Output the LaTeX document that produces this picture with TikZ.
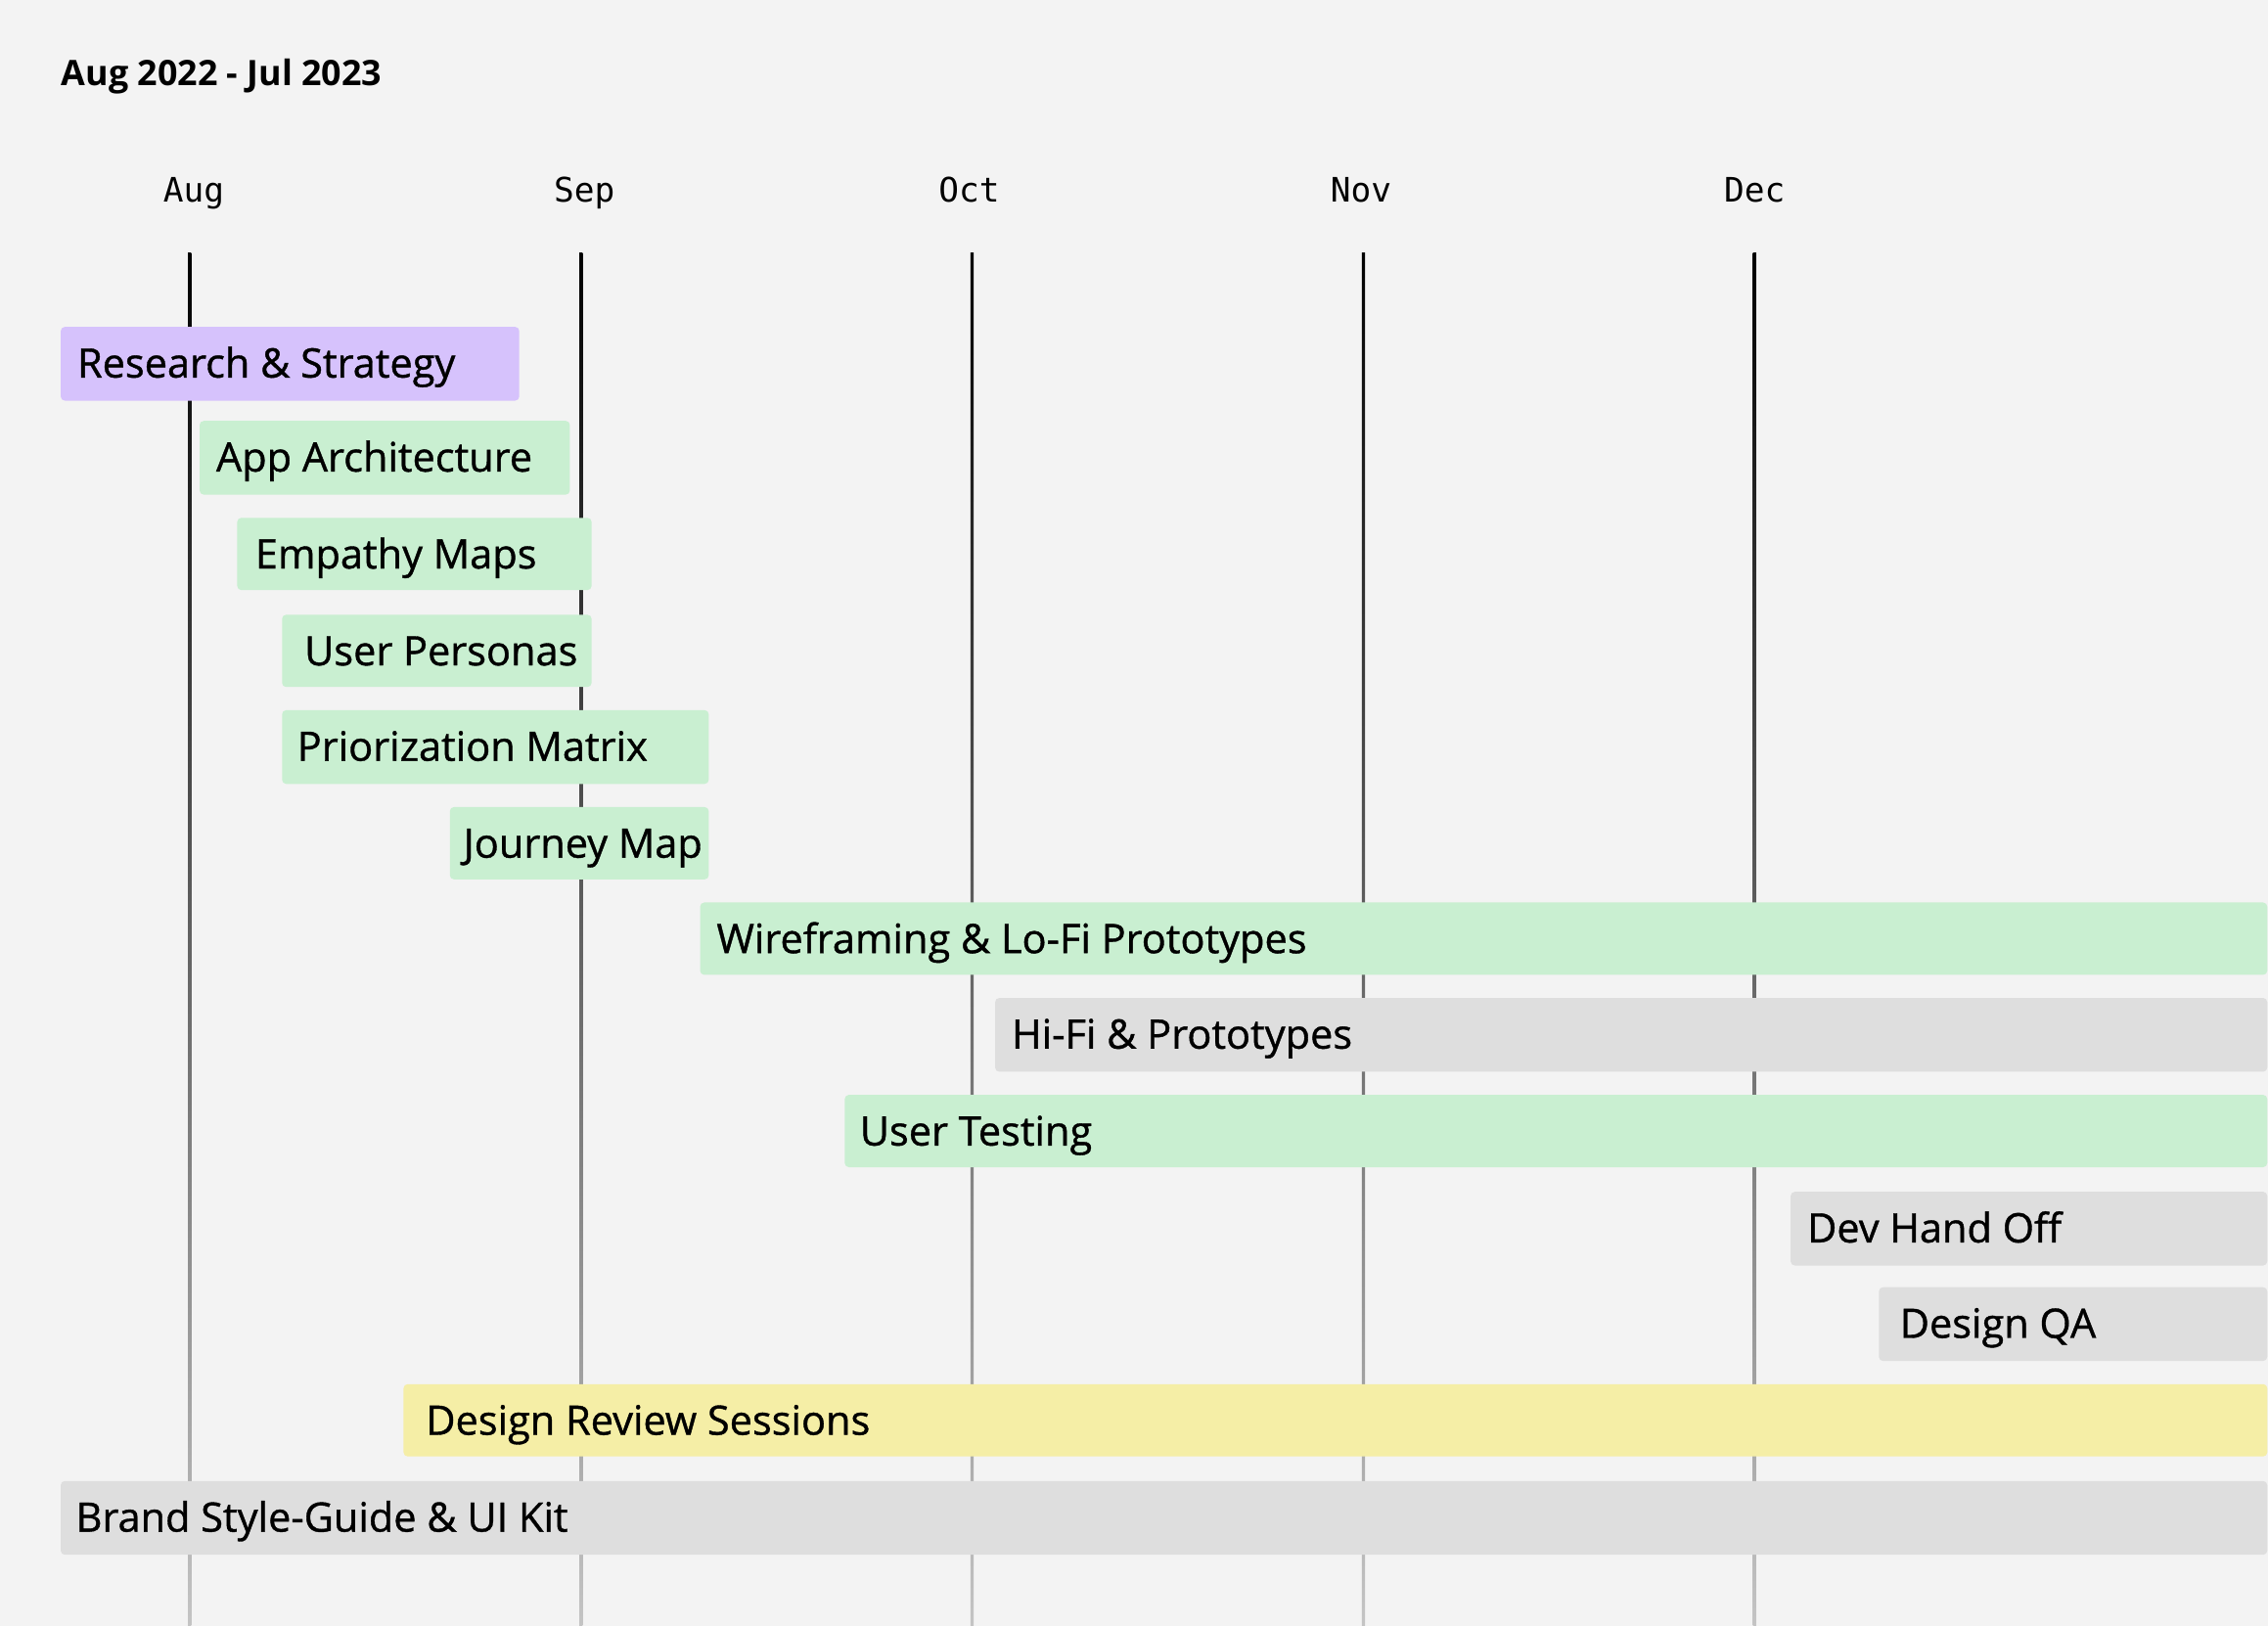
\documentclass[tikz,border=0pt]{standalone}
\usepackage{fontspec}
\setmainfont{Open Sans}
\newfontfamily\taskfont{Open Sans}[FakeBold=0.9]
\newfontfamily\monthfont{DejaVu Sans Mono}
\usepackage{tikz}
\definecolor{bgGray}{HTML}{F3F3F3}
\definecolor{barPurple}{HTML}{D6C2FC}
\definecolor{barGreen}{HTML}{C9EFD1}
\definecolor{barGray}{HTML}{DEDEDE}
\definecolor{barYellow}{HTML}{F5EEA6}
\definecolor{lineFade}{HTML}{C4C4C4}

\begin{document}
\begin{tikzpicture}[x=0.1478mm, y=-0.1478mm,
    bar/.style={rounded corners=1.2pt},
    task/.style={anchor=base west, inner sep=0pt, font=\taskfont\fontsize{11.8}{14}\selectfont},
    month/.style={anchor=base, inner sep=0pt, font=\monthfont\fontsize{9.8}{12}\selectfont},
    monthline/.style={top color=black, bottom color=lineFade}]
    %%background
    \fill[bgGray] (0,0) rectangle (1568,1124);
    \useasboundingbox (0,0) rectangle (1568,1124);
    %%title
    \node[anchor=base west, inner sep=0pt, font=\bfseries\fontsize{10.2}{12}\selectfont] (period) at (42,59) {Aug 2022 - Jul 2023};
    %%months
    \node[month] (aug) at (134,139.5) {Aug};
    \node[month] (sep) at (404,139.5) {Sep};
    \node[month] (oct) at (670,139.5) {Oct};
    \node[month] (nov) at (941,139.5) {Nov};
    \node[month] (dec) at (1213,139.5) {Dec};
    %%month_lines
    \shade[monthline] (130,175) rectangle (132.2,1124);
    \shade[monthline] (400.5,175) rectangle (402.7,1124);
    \shade[monthline] (671,175) rectangle (673.2,1124);
    \shade[monthline] (941.5,175) rectangle (943.7,1124);
    \shade[monthline] (1212,175) rectangle (1214.2,1124);
    %%tasks
    \fill[bar, barPurple] (42,226) rectangle (359,277);
    \node[task] (research) at (53,261) {Research \& Strategy};
    \fill[bar, barGreen] (138,291) rectangle (394,342);
    \node[task] (apparch) at (149,326) {App Architecture};
    \fill[bar, barGreen] (164,358) rectangle (409,408);
    \node[task] (empathy) at (176,393) {Empathy Maps};
    \fill[bar, barGreen] (195,425) rectangle (409,475);
    \node[task] (personas) at (210,460) {User Personas};
    \fill[bar, barGreen] (195,491) rectangle (490,542);
    \node[task] (matrix) at (205,526) {Priorization Matrix};
    \fill[bar, barGreen] (311,558) rectangle (490,608);
    \node[task] (journey) at (320,593) {Journey Map};
    \fill[bar, barGreen] (484,624) rectangle (1567.5,674);
    \node[task] (wireframe) at (495,659) {Wireframing \& Lo-Fi Prototypes};
    \fill[bar, barGray] (688,690) rectangle (1567.5,741);
    \node[task] (hifi) at (699,725) {Hi-Fi \& Prototypes};
    \fill[bar, barGreen] (584,757) rectangle (1567.5,807);
    \node[task] (testing) at (594,792) {User Testing};
    \fill[bar, barGray] (1238,824) rectangle (1567.5,875);
    \node[task] (handoff) at (1249,859) {Dev Hand Off};
    \fill[bar, barGray] (1299,890) rectangle (1567.5,941);
    \node[task] (qa) at (1313,925) {Design QA};
    \fill[bar, barYellow] (279,957) rectangle (1567.5,1007);
    \node[task] (review) at (294,992) {Design Review Sessions};
    \fill[bar, barGray] (42,1024) rectangle (1567.5,1075);
    \node[task] (brand) at (52,1059) {Brand Style-Guide \& UI Kit};
\end{tikzpicture}
\end{document}
